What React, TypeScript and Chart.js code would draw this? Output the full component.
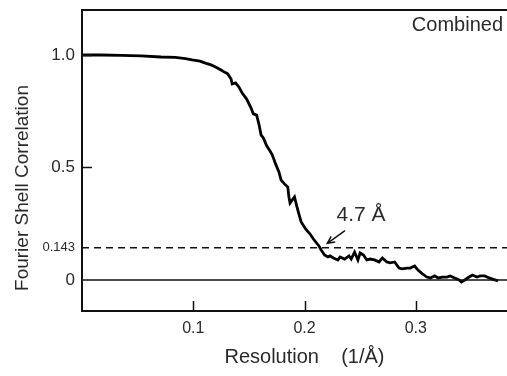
import React, { useEffect, useRef } from "react";
import { Chart, registerables } from "chart.js";

Chart.register(...registerables);

// Resolution (1/Å)
const RESOLUTION = [
  0.001, 0.017, 0.035, 0.053, 0.071, 0.084, 0.093, 0.099, 0.106, 0.111, 0.116, 0.12, 0.125, 0.128, 0.131,
  0.134, 0.135, 0.138, 0.141, 0.144, 0.148, 0.152, 0.154, 0.157, 0.159, 0.161, 0.163, 0.166, 0.169, 0.171,
  0.174, 0.177, 0.179, 0.182, 0.185, 0.186, 0.187, 0.189, 0.191, 0.193, 0.195, 0.197, 0.201, 0.205, 0.208,
  0.213, 0.215, 0.218, 0.221, 0.223, 0.226, 0.23, 0.232, 0.236, 0.24, 0.242, 0.245, 0.248, 0.25, 0.253,
  0.256, 0.259, 0.263, 0.267, 0.27, 0.274, 0.277, 0.281, 0.285, 0.288, 0.292, 0.295, 0.299, 0.302, 0.306,
  0.31, 0.313, 0.317, 0.32, 0.324, 0.328, 0.331, 0.335, 0.339, 0.341, 0.344, 0.348, 0.351, 0.355, 0.358,
  0.362, 0.366, 0.369, 0.374,
];
// Fourier Shell Correlation
const FSC = [
  1.0, 1.0, 0.998, 0.996, 0.991, 0.989, 0.984, 0.978, 0.973, 0.964, 0.956, 0.947, 0.933, 0.924, 0.916,
  0.893, 0.871, 0.876, 0.858, 0.831, 0.804, 0.764, 0.738, 0.733, 0.693, 0.644, 0.631, 0.596, 0.573, 0.556,
  0.516, 0.48, 0.444, 0.427, 0.413, 0.369, 0.342, 0.356, 0.369, 0.329, 0.293, 0.258, 0.227, 0.204, 0.182,
  0.151, 0.133, 0.111, 0.102, 0.107, 0.098, 0.089, 0.102, 0.093, 0.107, 0.093, 0.124, 0.089, 0.12, 0.111,
  0.089, 0.093, 0.089, 0.08, 0.098, 0.08, 0.076, 0.08, 0.053, 0.049, 0.053, 0.053, 0.062, 0.044, 0.027,
  0.013, 0.009, 0.018, 0.009, 0.013, 0.013, 0.018, 0.009, 0.0, -0.009, 0.0, 0.013, 0.022, 0.013, 0.018,
  0.018, 0.009, 0.004, -0.004,
];

const X_TICKS = [0.1, 0.2, 0.3];
const Y_TICKS = [0, 0.143, 0.5, 1.0];
const Y_TICK_LABELS = ["0", "0.143", "0.5", "1.0"];
const Y_INNER_TICKS = [0.5, 1.0];
const THRESHOLD = 0.143;
const X_MIN = 0;
const X_MAX = 0.4;
const Y_MIN = -0.138;
const Y_MAX = 1.2;

const ANNOTATION_TEXT = "4.7 Å";
const ANNOTATION_POS = { x: 0.2508, y: 0.289 };
const ARROW_TAIL = { x: 0.2364, y: 0.219 };
const ARROW_HEAD = { x: 0.2205, y: 0.163 };
const PANEL_LABEL = "Combined";
const X_TITLE = "Resolution    (1/Å)";
const Y_TITLE = "Fourier Shell Correlation";

const FONT = "'Liberation Sans', Arial, Helvetica, sans-serif";
const TEXT_COLOR = "#2a2a2a";
const LINE_COLOR = "#111";

const decorPlugin = {
  id: "decor",
  afterDraw(chart: any) {
    const { ctx, chartArea, scales } = chart;
    const { left, top, right, bottom } = chartArea;
    const x = scales.x;
    const y = scales.y;
    ctx.save();
    ctx.strokeStyle = LINE_COLOR;
    ctx.lineWidth = 2;
    // top frame
    ctx.beginPath();
    ctx.moveTo(left - 1, top);
    ctx.lineTo(right, top);
    ctx.stroke();
    // inward x ticks
    ctx.lineWidth = 1.5;
    for (const v of X_TICKS) {
      const px = Math.round(x.getPixelForValue(v)) + 0.5;
      ctx.beginPath();
      ctx.moveTo(px, bottom);
      ctx.lineTo(px, bottom - 10);
      ctx.stroke();
    }
    // inward y ticks
    for (const v of Y_INNER_TICKS) {
      const py = Math.round(y.getPixelForValue(v)) + 0.5;
      ctx.beginPath();
      ctx.moveTo(left, py);
      ctx.lineTo(left + 10, py);
      ctx.stroke();
    }
    // arrow
    const tx = x.getPixelForValue(ARROW_TAIL.x);
    const ty = y.getPixelForValue(ARROW_TAIL.y);
    const hx = x.getPixelForValue(ARROW_HEAD.x);
    const hy = y.getPixelForValue(ARROW_HEAD.y);
    ctx.lineWidth = 1.5;
    ctx.beginPath();
    ctx.moveTo(tx, ty);
    ctx.lineTo(hx, hy);
    ctx.stroke();
    const ang = Math.atan2(hy - ty, hx - tx);
    const L = 8;
    ctx.beginPath();
    ctx.moveTo(hx - L * Math.cos(ang - 0.45), hy - L * Math.sin(ang - 0.45));
    ctx.lineTo(hx, hy);
    ctx.lineTo(hx - L * Math.cos(ang + 0.45), hy - L * Math.sin(ang + 0.45));
    ctx.stroke();

    ctx.fillStyle = TEXT_COLOR;
    ctx.textAlign = "center";
    ctx.textBaseline = "middle";
    ctx.font = `21px ${FONT}`;
    ctx.fillText(ANNOTATION_TEXT, x.getPixelForValue(ANNOTATION_POS.x), y.getPixelForValue(ANNOTATION_POS.y));

    // panel label
    ctx.textAlign = "right";
    ctx.font = `20px ${FONT}`;
    ctx.fillText(PANEL_LABEL, 503, 25);

    // axis titles
    ctx.textAlign = "center";
    ctx.font = `20px ${FONT}`;
    ctx.fillText(X_TITLE, (left + right) / 2, 357);

    ctx.save();
    ctx.translate(23, 188);
    ctx.rotate(-Math.PI / 2);
    ctx.font = `19px ${FONT}`;
    ctx.fillText(Y_TITLE, 0, 0);
    ctx.restore();

    ctx.restore();
  },
};

export default function App() {
  const ref = useRef<HTMLCanvasElement | null>(null);
  useEffect(() => {
    if (!ref.current) return;
    const curve = RESOLUTION.map((r, i) => ({ x: r, y: FSC[i] }));
    const chart = new Chart(ref.current, {
      type: "line",
      data: {
        datasets: [
          {
            data: [
              { x: X_MIN, y: THRESHOLD },
              { x: X_MAX, y: THRESHOLD },
            ],
            borderColor: LINE_COLOR,
            borderWidth: 1.6,
            borderDash: [7, 5],
            pointRadius: 0,
          },
          {
            data: [
              { x: X_MIN, y: 0 },
              { x: X_MAX, y: 0 },
            ],
            borderColor: LINE_COLOR,
            borderWidth: 1.6,
            pointRadius: 0,
          },
          {
            data: curve,
            borderColor: "#000",
            borderWidth: 2.8,
            pointRadius: 0,
            tension: 0,
          },
        ],
      },
      options: {
        responsive: false,
        animation: false,
        events: [],
        layout: { padding: { top: 10, right: 0, left: 0, bottom: 0 } },
        plugins: { legend: { display: false }, tooltip: { enabled: false } },
        scales: {
          x: {
            type: "linear",
            min: X_MIN,
            max: X_MAX,
            afterFit: (s: any) => {
              s.height = 65;
              s.paddingLeft = 0;
              s.paddingRight = 0;
            },
            afterBuildTicks: (s: any) => {
              s.ticks = X_TICKS.map((v) => ({ value: v }));
            },
            grid: { display: false, drawTicks: false },
            border: { display: true, color: LINE_COLOR, width: 2 },
            ticks: {
              padding: 8,
              color: TEXT_COLOR,
              font: { size: 16, family: FONT },
              maxRotation: 0,
              callback: (v: any) => String(v),
            },
          },
          y: {
            type: "linear",
            min: Y_MIN,
            max: Y_MAX,
            afterFit: (s: any) => {
              s.width = 82;
              s.paddingTop = 0;
              s.paddingBottom = 0;
            },
            afterBuildTicks: (s: any) => {
              s.ticks = Y_TICKS.map((v) => ({ value: v }));
            },
            grid: { display: false, drawTicks: false },
            border: { display: true, color: LINE_COLOR, width: 2 },
            ticks: {
              padding: 7,
              color: TEXT_COLOR,
              font: (c: any) => ({
                size: c.tick && c.tick.value === THRESHOLD ? 13 : 17,
                family: FONT,
              }),
              callback: (v: any) => {
                const i = Y_TICKS.indexOf(Number(v));
                return i >= 0 ? Y_TICK_LABELS[i] : "";
              },
            },
          },
        },
      },
      plugins: [decorPlugin],
    });
    return () => chart.destroy();
  }, []);

  return (
    <div
      style={{
        position: "absolute",
        left: 0,
        top: 0,
        width: 507,
        height: 376,
        overflow: "hidden",
        background: "#fff",
      }}
    >
      <canvas ref={ref} width={527} height={376} style={{ display: "block" }} />
    </div>
  );
}
